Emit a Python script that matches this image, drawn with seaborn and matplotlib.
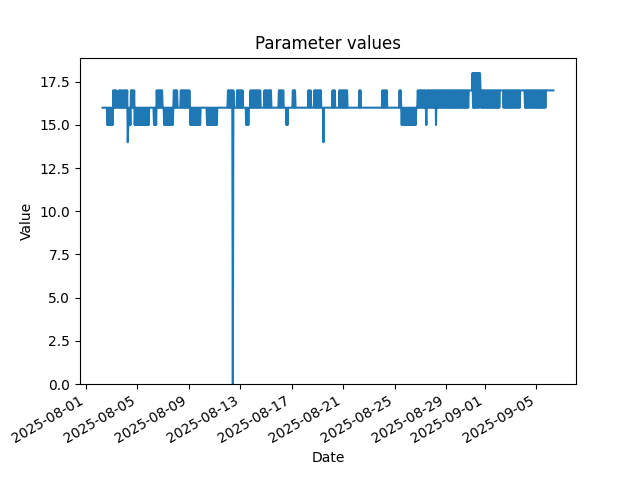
import pandas as pd
import numpy as np
import matplotlib
matplotlib.use("Agg")
import matplotlib.pyplot as plt
import seaborn as sns

# hourly readings, one string per day starting 2025-08-02 00:00
# code -> value: '6'=16, '7'=17, '5'=15, '4'=14, '8'=18, '0'=0, '-'=no reading
start_date = "2025-08-02"
code_values = {"0": 0, "4": 14, "5": 15, "6": 16, "7": 17, "8": 18}
hourly_codes = [
    "-------66666666656565656",
    "565767676766667676767667",
    "676767456565767676756565",
    "656565656565656565656566",
    "666666656565767676767676",
    "665656565656565656567676",
    "767666666767676767676767",
    "676565656565656565656566",
    "666666666656565656565656",
    "565656666666666666666666",
    "676767676707666666767676",
    "767676666665656566676767",
    "676767676767676666666767",
    "676767676766666666666666",
    "767676767666665656666666",
    "667676766666666666666666",
    "666666676767666666767676",
    "767676766664666666666666",
    "666676767666666667676767",
    "676767676666666666666666",
    "666666767666666666666666",
    "666666666666666666666666",
    "676767676766666666666666",
    "666666666767656565656565",
    "656565656565656566676767",
    "676767676765767676767676",
    "767675767676767676767676",
    "767676767676767676767676",
    "767676767676767676777777",
    "786868686868686876767676",
    "767676767676767676767676",
    "767677777776767676767676",
    "767676767676767676777777",
    "777676767676767676767676",
    "767676767676767676777777",
    "777777777---------------",
]

codes = "".join(hourly_codes)
times = pd.date_range(start_date, periods=len(codes), freq="h")
values = [code_values.get(c, np.nan) for c in codes]
df = pd.DataFrame({"Date": times, "Value": values}).dropna()

fig, ax = plt.subplots(figsize=(6.4, 4.8), dpi=100)
sns.lineplot(data=df, x="Date", y="Value", ax=ax, color="#1f77b4", linewidth=1.5)

ax.set_ylim(bottom=0)
ax.set_title("Parameter values")
ax.set_xlabel("Date")
ax.set_ylabel("Value")
fig.autofmt_xdate()

plt.savefig("out.png", dpi=100)
